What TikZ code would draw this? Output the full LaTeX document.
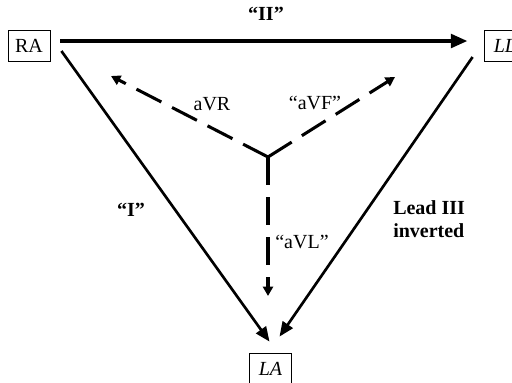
\documentclass[tikz,border=0pt]{standalone}
\usepackage{fontspec}
\setmainfont{Liberation Serif}
\usetikzlibrary{arrows.meta}

\begin{document}
\begin{tikzpicture}[x=0.75pt, y=-0.75pt,
    font=\fontsize{15}{17.25}\selectfont,
    box/.style={draw, line width=0.6pt, minimum width=31.5pt, minimum height=23.25pt, inner sep=0pt},
    lead/.style={line width=2pt, -{Triangle[length=11pt, width=9pt]}},
    aug/.style={line width=2.3pt, dash pattern=on 21pt off 9pt, -{Triangle[length=7pt, width=7.5pt]}}]
    \useasboundingbox (0,0) rectangle (512,383);

    % electrodes
    \node[box] (RA) at (29,46) {RA};
    \node[box] (LL) at (505,46) {\textit{LL}};
    \node[box] (LA) at (270.5,368.5) {\textit{LA}};

    % limb leads
    \draw[lead, line width=3pt, -{Triangle[length=12.5pt, width=10pt]}]
        ([shift={(10,-5)}]RA.east) -- ([shift={(-16,-5)}]LL.west);
    \draw[lead] ([shift={(11,5)}]RA.east) -- ([shift={(-1,-11)}]LA.north);
    \draw[lead] ([shift={(-11,11)}]LL.west) -- ([shift={(9,-16)}]LA.north);

    % augmented leads
    \coordinate (O) at (268,157);
    \coordinate (aVRtip) at (111,76);
    \coordinate (aVFtip) at (395,77);
    \coordinate (aVLtip) at (268,296);
    \draw[aug] (O) -- (aVRtip);
    \draw[aug] (O) -- (aVFtip);
    \draw[aug] (O) -- (aVLtip);

    \node[font=\fontsize{15}{17.25}\selectfont\bfseries] (II) at (266,14) {``II''};
    \node[font=\fontsize{15}{17.25}\selectfont\bfseries] (I) at (131,210) {``I''};
    \node[font=\fontsize{15}{17.25}\selectfont\bfseries, anchor=west, align=left, inner sep=0pt]
        (III) at (393,219) {Lead III\\inverted};
    \node (aVR) at (212,104) {aVR};
    \node (aVF) at (315,103) {``aVF''};
    \node (aVL) at (302,242) {``aVL''};
\end{tikzpicture}
\end{document}
